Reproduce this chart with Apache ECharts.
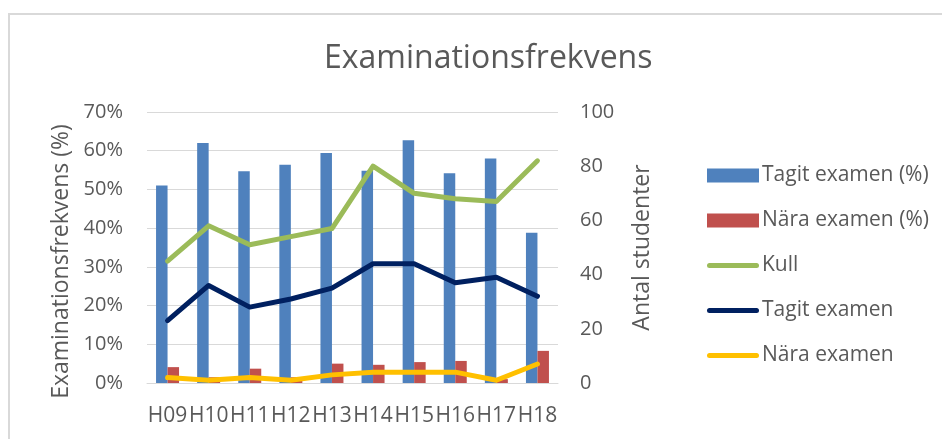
<!DOCTYPE html>
<html>
<head>
<meta charset="utf-8">
<script src="https://cdn.jsdelivr.net/npm/echarts@6/dist/echarts.min.js"></script>
<style>
  html, body { margin: 0; padding: 0; background: #fff; }
  #chart { width: 942px; height: 439px; }
</style>
</head>
<body>
<div id="chart"></div>
<script>
// terminer
const categories = ['H09', 'H10', 'H11', 'H12', 'H13', 'H14', 'H15', 'H16', 'H17', 'H18'];
// andelar i procent (vänster axel)
const tagitPct = [51, 62, 54.7, 56.4, 59.4, 54.8, 62.7, 54.2, 58, 38.8];
const naraPct = [4.1, 1.5, 3.7, 1.5, 5.0, 4.7, 5.4, 5.7, 1.0, 8.3];
// antal studenter (höger axel)
const kull = [45, 58, 51, 54, 57, 80, 70, 68, 67, 82];
const tagitAntal = [23, 36, 28, 31, 35, 44, 44, 37, 39, 32];
const naraAntal = [2, 1, 2, 1, 3, 4, 4, 4, 1, 7];

const textColor = '#595959';
const font = 'Open Sans';

// tjock linje med rundade ändar, mitt i en 52x14-ruta
const lineIcon = 'path://M0,0 M52,14 M2.5,4.5 L49.5,4.5 A2.5,2.5 0 0 1 49.5,9.5 L2.5,9.5 A2.5,2.5 0 0 1 2.5,4.5 Z';

const chart = echarts.init(document.getElementById('chart'));

function lineSeries(name, data, color) {
  return {
    name: name,
    type: 'line',
    yAxisIndex: 1,
    data: data,
    symbol: 'none',
    itemStyle: { color: color },
    lineStyle: { color: color, width: 5, cap: 'round', join: 'round' },
    z: 3
  };
}

const option = {
  animation: false,
  textStyle: { fontFamily: font, color: textColor },
  graphic: [{
    type: 'rect',
    shape: { x: 9, y: 14, width: 1000, height: 1000 },
    style: { fill: 'none', stroke: '#d9d9d9', lineWidth: 2 },
    silent: true
  }],
  title: {
    text: 'Examinationsfrekvens',
    left: 319,
    top: 38,
    textStyle: { fontFamily: font, fontSize: 32, fontWeight: 'normal', color: textColor }
  },
  legend: {
    orient: 'vertical',
    left: 702,
    top: 160,
    itemWidth: 52,
    itemHeight: 14,
    itemGap: 24,
    textStyle: { fontFamily: font, fontSize: 21, color: textColor, padding: [0, 0, 0, -2] },
    data: [
      { name: 'Tagit examen (%)', icon: 'rect' },
      { name: 'Nära examen (%)', icon: 'rect' },
      { name: 'Kull', icon: lineIcon },
      { name: 'Tagit examen', icon: lineIcon },
      { name: 'Nära examen', icon: lineIcon }
    ]
  },
  grid: { left: 147, right: 384, top: 112, bottom: 56 },
  xAxis: {
    type: 'category',
    data: categories,
    axisLine: { lineStyle: { color: '#d9d9d9', width: 1 } },
    axisTick: { show: false },
    axisLabel: { color: textColor, fontSize: 21, margin: 23, interval: 0, fontFamily: font }
  },
  yAxis: [{
    type: 'value',
    min: 0,
    max: 70,
    interval: 10,
    name: 'Examinationsfrekvens (%)',
    nameLocation: 'middle',
    nameGap: 74,
    nameTextStyle: { fontSize: 23, color: textColor, fontFamily: font, padding: [0, 28, 0, 0] },
    axisLabel: { formatter: '{value}%', color: textColor, fontSize: 20, margin: 24, fontFamily: font },
    axisLine: { show: false },
    axisTick: { show: false },
    splitLine: { lineStyle: { color: '#d9d9d9', width: 1 } }
  }, {
    type: 'value',
    min: 0,
    max: 100,
    interval: 20,
    name: 'Antal studenter',
    nameLocation: 'middle',
    nameGap: 73,
    nameTextStyle: { fontSize: 23, color: textColor, fontFamily: font },
    axisLabel: { color: textColor, fontSize: 20, margin: 22, fontFamily: font },
    axisLine: { show: false },
    axisTick: { show: false },
    splitLine: { show: false }
  }],
  series: [
    {
      name: 'Tagit examen (%)',
      type: 'bar',
      data: tagitPct,
      barWidth: 11.5,
      barGap: '0%',
      itemStyle: { color: '#4f81bd' }
    },
    {
      name: 'Nära examen (%)',
      type: 'bar',
      data: naraPct,
      barWidth: 11.5,
      itemStyle: { color: '#c0504d' }
    },
    lineSeries('Kull', kull, '#9bbb59'),
    lineSeries('Tagit examen', tagitAntal, '#002060'),
    lineSeries('Nära examen', naraAntal, '#ffc000')
  ]
};

chart.setOption(option);
</script>
</body>
</html>
